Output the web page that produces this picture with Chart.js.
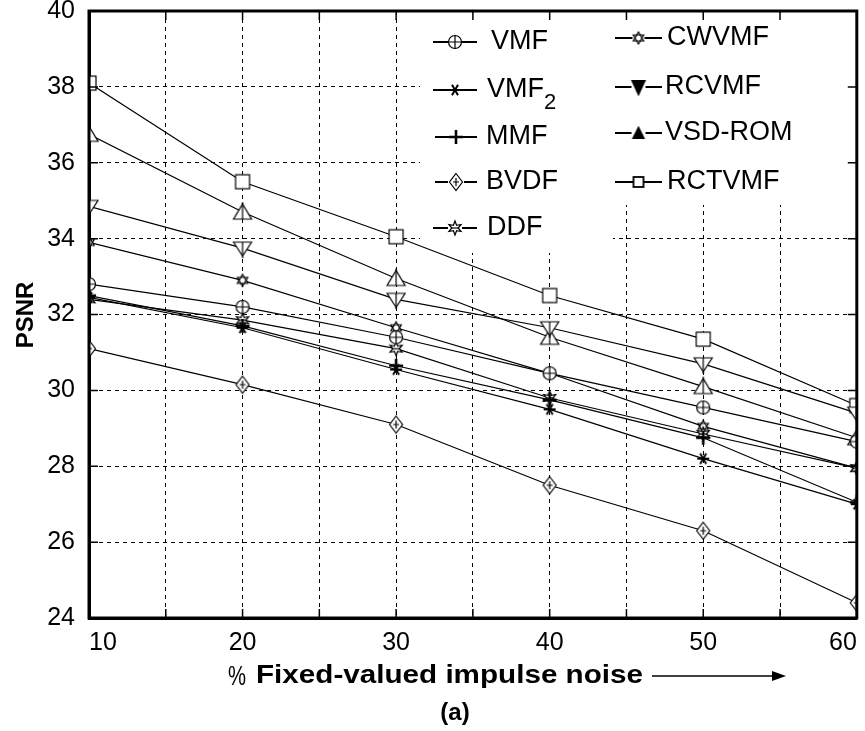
<!DOCTYPE html>
<html>
<head>
<meta charset="utf-8">
<script src="https://cdn.jsdelivr.net/npm/chart.js@4.4.1/dist/chart.umd.min.js"></script>
<style>
  html, body { margin: 0; padding: 0; background: #fff; }
  canvas { display: block; }
</style>
</head>
<body>
<canvas id="psnrChart" width="865" height="731"></canvas>
<script>
// noise level (%) on x, PSNR (dB) on y
const noiseLevels = [10, 20, 30, 40, 50, 60];
const xTickLabels = [10, 20, 30, 40, 50, 60];
const yTickLabels = [24, 26, 28, 30, 32, 34, 36, 38, 40];

const vmf    = [32.8, 32.2, 31.4, 30.45, 29.55, 28.65];
const vmf2   = [32.45, 31.65, 30.55, 29.5, 28.2, 27.0];
const mmf    = [32.5, 31.7, 30.65, 29.75, 28.75, 27.05];
const bvdf   = [31.1, 30.15, 29.1, 27.5, 26.3, 24.4];
const ddf    = [32.4, 31.85, 31.1, 29.8, 28.85, 27.95];
const cwvmf  = [33.9, 32.9, 31.65, 30.45, 29.05, 27.95];
const rcvmf  = [34.85, 33.75, 32.4, 31.65, 30.7, 29.4];
const vsdrom = [36.75, 34.7, 32.95, 31.4, 30.1, 28.75];
const rctvmf = [38.1, 35.5, 34.05, 32.5, 31.35, 29.6];

const FONT = "'Liberation Sans', Arial, sans-serif";

// small canvases used as point styles
function makeMarker(size, draw) {
    const c = document.createElement('canvas');
    c.width = size;
    c.height = size;
    const g = c.getContext('2d');
    g.translate(size / 2, size / 2);
    g.strokeStyle = '#000';
    g.fillStyle = '#fff';
    g.lineWidth = 1.2;
    g.lineJoin = 'miter';
    draw(g);
    return c;
}

function poly(g, pts) {
    g.beginPath();
    pts.forEach((p, i) => i ? g.lineTo(p[0], p[1]) : g.moveTo(p[0], p[1]));
    g.closePath();
}

function starPts(n, ro, ri, rot) {
    const pts = [];
    for (let i = 0; i < n * 2; i++) {
        const r = i % 2 ? ri : ro;
        const a = rot + i * Math.PI / n;
        pts.push([r * Math.sin(a), -r * Math.cos(a)]);
    }
    return pts;
}

const mkCirclePlus = makeMarker(18, g => {
    g.beginPath(); g.arc(0, 0, 6.5, 0, Math.PI * 2); g.fill(); g.stroke();
    g.beginPath(); g.moveTo(-7, 0); g.lineTo(7, 0); g.moveTo(0, -7); g.lineTo(0, 7); g.stroke();
});
const mkAsterisk = makeMarker(16, g => {
    g.lineWidth = 2;
    g.beginPath();
    for (let k = 0; k < 3; k++) {
        const a = k * Math.PI / 3;
        g.moveTo(-6 * Math.cos(a), -6 * Math.sin(a));
        g.lineTo(6 * Math.cos(a), 6 * Math.sin(a));
    }
    g.stroke();
});
const mkPlus = makeMarker(18, g => {
    g.lineWidth = 2.6;
    g.beginPath(); g.moveTo(-7, 0); g.lineTo(7, 0); g.moveTo(0, -7); g.lineTo(0, 7); g.stroke();
});
const mkDiamond = makeMarker(20, g => {
    poly(g, [[0, -8.5], [6.5, 0], [0, 8.5], [-6.5, 0]]); g.fill(); g.stroke();
    g.beginPath(); g.moveTo(-3, 0); g.lineTo(3, 0); g.moveTo(0, -4); g.lineTo(0, 4); g.stroke();
});
const mkSixStar = makeMarker(18, g => {
    poly(g, starPts(6, 7, 3.2, 0)); g.fill(); g.stroke();
    g.beginPath(); g.moveTo(-4, 0); g.lineTo(4, 0); g.stroke();
});
const mkHexagram = makeMarker(16, g => {
    poly(g, [[0, -6], [5.2, 3], [-5.2, 3]]); g.fill(); g.stroke();
    poly(g, [[0, 6], [5.2, -3], [-5.2, -3]]); g.stroke();
});
const mkTriDown = makeMarker(22, g => {
    poly(g, [[-9, -6], [9, -6], [0, 8]]); g.fill(); g.stroke();
    g.beginPath(); g.moveTo(0, -6); g.lineTo(0, 10); g.stroke();
});
const mkTriUp = makeMarker(22, g => {
    poly(g, [[-9, 7], [9, 7], [0, -8]]); g.fill(); g.stroke();
    g.beginPath(); g.moveTo(0, -10); g.lineTo(0, 7); g.stroke();
});
const mkSquare = makeMarker(18, g => {
    g.fillRect(-7, -7, 14, 14); g.strokeRect(-7, -7, 14, 14);
});
// heavier versions for the key
const mkKeyTriDown = makeMarker(18, g => {
    g.fillStyle = '#000';
    poly(g, [[-6, -6], [6, -6], [0, 7]]); g.fill(); g.lineWidth = 2; g.stroke();
});
const mkKeyTriUp = makeMarker(18, g => {
    g.fillStyle = '#000';
    poly(g, [[-5, 5], [5, 5], [0, -5]]); g.fill(); g.lineWidth = 2; g.stroke();
});
const mkKeySquare = makeMarker(14, g => {
    g.lineWidth = 1.8;
    g.fillRect(-5, -5, 10, 10); g.strokeRect(-5, -5, 10, 10);
});

const series = [
    { name: 'VMF',     values: vmf,    marker: mkCirclePlus },
    { name: 'VMF',     values: vmf2,   marker: mkAsterisk, sub: '2' },
    { name: 'MMF',     values: mmf,    marker: mkPlus },
    { name: 'BVDF',    values: bvdf,   marker: mkDiamond },
    { name: 'DDF',     values: ddf,    marker: mkSixStar },
    { name: 'CWVMF',   values: cwvmf,  marker: mkHexagram },
    { name: 'RCVMF',   values: rcvmf,  marker: mkTriDown, key: mkKeyTriDown },
    { name: 'VSD-ROM', values: vsdrom, marker: mkTriUp, key: mkKeyTriUp },
    { name: 'RCTVMF',  values: rctvmf, marker: mkSquare, key: mkKeySquare }
];

// key layout: [line start, line end, text x, row y]
const keySlots = [
    [433, 477, 491, 42], [433, 477, 487, 90], [435, 477, 486, 137], [435, 477, 486, 182], [433, 477, 487, 228],
    [615, 662, 667, 38], [615, 662, 665, 87], [615, 662, 665, 133], [615, 662, 667, 182]
];

// text drawn wider than the font's natural width
function wideText(ctx, text, x, y, sx) {
    ctx.save();
    ctx.translate(x, y);
    ctx.scale(sx, 1);
    ctx.fillText(text, 0, 0);
    ctx.restore();
}

const matlabFrame = {
    id: 'matlabFrame',
    beforeDatasetsDraw(chart) {
        const ctx = chart.ctx;
        ctx.save();
        ctx.fillStyle = '#fff';
        ctx.fillRect(420, 13, 193, 240);
        ctx.fillRect(613, 13, 245, 192);
        ctx.restore();
    },
    afterDraw(chart) {
        const ctx = chart.ctx;
        const a = chart.chartArea;
        const xs = chart.scales.x, ys = chart.scales.y;
        ctx.save();

        // key
        series.forEach((s, i) => {
            const [x0, x1, tx, y] = keySlots[i];
            const m = s.key || s.marker;
            const cx = (x0 + x1) / 2;
            ctx.strokeStyle = '#000';
            ctx.lineWidth = 2;
            ctx.beginPath();
            ctx.moveTo(x0, y); ctx.lineTo(cx - m.width / 2 + 2, y);
            ctx.moveTo(cx + m.width / 2 - 2, y); ctx.lineTo(x1, y);
            ctx.stroke();
            ctx.drawImage(m, cx - m.width / 2, y - m.height / 2);
            ctx.fillStyle = '#000';
            ctx.font = '27px ' + FONT;
            ctx.textAlign = 'left';
            ctx.textBaseline = 'middle';
            ctx.fillText(s.name, tx, y);
            if (s.sub) {
                const w = ctx.measureText(s.name).width;
                ctx.font = '22px ' + FONT;
                ctx.fillText(s.sub, tx + w, y + 13);
            }
        });

        // inward tick marks on all four sides
        ctx.strokeStyle = '#000';
        ctx.lineWidth = 1.5;
        ctx.beginPath();
        for (let v = 10; v <= 60; v += 5) {
            const px = xs.getPixelForValue(v);
            ctx.moveTo(px, a.bottom); ctx.lineTo(px, a.bottom - 9);
            ctx.moveTo(px, a.top); ctx.lineTo(px, a.top + 9);
        }
        yTickLabels.forEach(v => {
            const py = ys.getPixelForValue(v);
            ctx.moveTo(a.left, py); ctx.lineTo(a.left + 9, py);
            ctx.moveTo(a.right, py); ctx.lineTo(a.right - 9, py);
        });
        ctx.stroke();

        // box
        ctx.lineWidth = 3;
        ctx.strokeRect(a.left, a.top, a.right - a.left, a.bottom - a.top);

        // axis titles
        ctx.fillStyle = '#000';
        ctx.font = 'bold 24px ' + FONT;
        ctx.textBaseline = 'middle';
        ctx.save();
        ctx.translate(26, 315);
        ctx.rotate(-Math.PI / 2);
        ctx.textAlign = 'center';
        ctx.fillText('PSNR', 0, 0);
        ctx.restore();

        ctx.textAlign = 'left';
        ctx.font = '27px ' + FONT;
        wideText(ctx, '%', 228, 678, 0.75);
        ctx.font = 'bold 25px ' + FONT;
        const w = ctx.measureText('Fixed-valued impulse noise').width;
        wideText(ctx, 'Fixed-valued impulse noise', 256, 676, 387 / w);
        ctx.lineWidth = 1.5;
        ctx.beginPath(); ctx.moveTo(652, 676); ctx.lineTo(774, 676); ctx.stroke();
        ctx.beginPath(); ctx.moveTo(772, 671); ctx.lineTo(786, 676); ctx.lineTo(772, 681); ctx.closePath(); ctx.fill();
        ctx.textAlign = 'center';
        ctx.font = 'bold 24px ' + FONT;
        ctx.fillText('(a)', 455, 713);
        ctx.restore();
    }
};

const ctx = document.getElementById('psnrChart').getContext('2d');
new Chart(ctx, {
    type: 'line',
    data: {
        datasets: series.map(s => ({
            label: s.name + (s.sub || ''),
            data: noiseLevels.map((x, i) => ({ x: x, y: s.values[i] })),
            borderColor: '#000',
            borderWidth: 1.2,
            pointStyle: s.marker,
            pointRadius: 7,
            fill: false,
            tension: 0
        }))
    },
    options: {
        responsive: false,
        animation: false,
        layout: { padding: { top: 11, right: 5, left: 0, bottom: 0 } },
        plugins: { legend: { display: false }, tooltip: { enabled: false } },
        scales: {
            x: {
                type: 'linear',
                min: 10,
                max: 60,
                afterFit: s => { s.height = 113; s.paddingLeft = 0; s.paddingRight = 0; },
                ticks: {
                    stepSize: 5,
                    autoSkip: false,
                    maxRotation: 0,
                    align: 'inner',
                    padding: 10,
                    color: '#000',
                    font: { family: FONT, size: 25 },
                    callback: v => xTickLabels.includes(v) ? String(v) : ''
                },
                grid: { color: '#000', lineWidth: 1, drawTicks: false },
                border: { display: true, color: '#000', width: 3, dash: [4, 4] }
            },
            y: {
                min: 24,
                max: 40,
                afterFit: s => { s.width = 89; s.paddingTop = 0; s.paddingBottom = 0; },
                ticks: {
                    stepSize: 2,
                    padding: 14,
                    color: '#000',
                    font: { family: FONT, size: 25 },
                    callback: v => yTickLabels.includes(v) ? String(v) : ''
                },
                grid: { color: '#000', lineWidth: 1, drawTicks: false },
                border: { display: true, color: '#000', width: 3, dash: [4, 4] }
            }
        }
    },
    plugins: [matlabFrame]
});
</script>
</body>
</html>
